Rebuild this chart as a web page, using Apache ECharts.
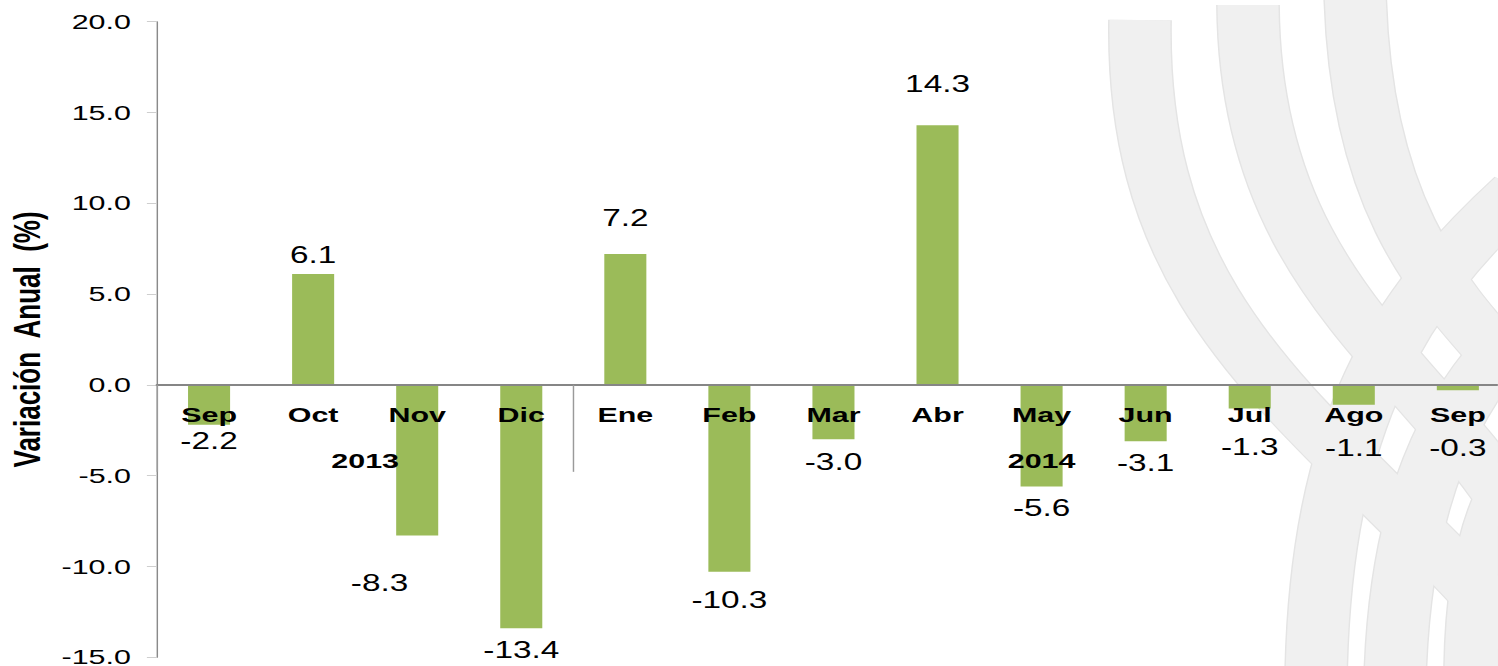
<!DOCTYPE html>
<html lang="es">
<head>
    <meta charset="utf-8">
    <title>Variación Anual</title>
    <script src="https://cdn.jsdelivr.net/npm/echarts@6/dist/echarts.min.js"></script>
    <style>
        body { margin: 0; overflow: hidden; background: #fff; }
        /* the source picture is stretched sideways, so the chart is drawn narrow and widened */
        #main { width: 1033px; height: 666px; transform: scaleX(1.45); transform-origin: 0 0; }
    </style>
</head>
<body>
    <div id="main"></div>
    <script type="text/javascript">
        var categories = ['Sep', 'Oct', 'Nov', 'Dic', 'Ene', 'Feb', 'Mar', 'Abr', 'May', 'Jun', 'Jul', 'Ago', 'Sep'];
        var values = [-2.2, 6.1, -8.3, -13.4, 7.2, -10.3, -3.0, 14.3, -5.6, -3.1, -1.3, -1.1, -0.3];
        var years = ['2013', '2014'];
        var yearFirst = [0, 4];
        var yearLast = [3, 12];
        var yMin = -15, yMax = 20, yStep = 5;

        // label placement as in the source (distance from bar end, sideways shift)
        var labelGap = [5, 8, 36, 10, 25, 17, 11, 30, 10, 10, 27, 32, 46];
        var labelShift = [0, 0, -26, 0, 0, 0, 0, 0, 0, 0, 0, 0, 0];

        var SX = 1.45;
        var gridTop = 21.7, gridH = 635.5;
        var font = 'Liberation Sans, Arial, Helvetica, sans-serif';
        var myChart = echarts.init(document.getElementById('main'), null, {renderer: 'svg'});

        // faint ribbon watermark on the right
        var ribbons = [
            [1140, 20, 1135, 330, 1330, 420, 1520, 640],
            [1248, 5, 1250, 280, 1420, 360, 1520, 520],
            [1355, -10, 1360, 220, 1450, 300, 1520, 380],
            [1316, 680, 1320, 420, 1400, 300, 1520, 190],
            [1395, 680, 1400, 500, 1450, 400, 1520, 330],
            [1475, 680, 1475, 560, 1500, 500, 1520, 470]
        ];
        var deco = [];
        ribbons.forEach(function (r) {
            var shape = {x1: r[0] / SX, y1: r[1], cpx1: r[2] / SX, cpy1: r[3],
                         cpx2: r[4] / SX, cpy2: r[5], x2: r[6] / SX, y2: r[7]};
            deco.push({type: 'bezierCurve', z: -20, silent: true, shape: shape,
                       style: {stroke: '#e4e4e4', lineWidth: 44, fill: null}});
            deco.push({type: 'bezierCurve', z: -19, silent: true, shape: shape,
                       style: {stroke: '#f0f0f0', lineWidth: 42, fill: null}});
        });

        var barData = values.map(function (v, i) {
            return {
                value: v,
                label: {
                    position: v < 0 ? 'bottom' : 'top',
                    distance: labelGap[i],
                    offset: [labelShift[i], 0]
                }
            };
        });

        // the category axis sits on the zero line
        var zeroOffset = -gridH * (0 - yMin) / (yMax - yMin);

        myChart.setOption({
            animation: false,
            grid: {left: 108.3, top: gridTop, width: 933, height: gridH, outerBoundsMode: 'none'},
            xAxis: {
                type: 'category',
                data: categories,
                position: 'bottom',
                offset: zeroOffset,
                z: 5,
                axisLine: {onZero: false, lineStyle: {color: '#868686', width: 2}},
                axisTick: {
                    show: true,
                    length: 87,
                    interval: function (index) { return index === 0 || index === 4; },
                    lineStyle: {color: '#9a9a9a', width: 1}
                },
                axisLabel: {
                    interval: 0, margin: 19,
                    color: '#000', fontSize: 21, fontWeight: 'bold', fontFamily: font
                },
                splitLine: {show: false}
            },
            yAxis: {
                type: 'value',
                min: yMin, max: yMax, interval: yStep,
                name: 'Variación  Anual  (%)',
                nameLocation: 'middle',
                nameGap: 76,
                nameTextStyle: {color: '#000', fontSize: 26, fontWeight: 'bold', fontFamily: font},
                axisLine: {show: true, lineStyle: {color: '#8a8a8a', width: 1}},
                axisTick: {show: true, length: 7, lineStyle: {color: '#cfcfcf'}},
                axisLabel: {
                    margin: 18, color: '#000', fontSize: 21, fontFamily: font,
                    formatter: function (v) { return v.toFixed(1); }
                },
                splitLine: {show: false}
            },
            series: [{
                type: 'bar',
                data: barData,
                barWidth: 29,
                itemStyle: {color: '#9bbb59'},
                label: {
                    show: true, color: '#000', fontSize: 23, fontFamily: font,
                    formatter: function (p) { return p.value.toFixed(1); }
                }
            }],
            graphic: deco
        });

        // year captions centred under their months
        var zeroY = myChart.convertToPixel({yAxisIndex: 0}, 0);
        var yearText = years.map(function (y, i) {
            var a = myChart.convertToPixel({xAxisIndex: 0}, yearFirst[i]);
            var b = myChart.convertToPixel({xAxisIndex: 0}, yearLast[i]);
            return {
                type: 'text', z: 10, silent: true,
                x: (a + b) / 2, y: zeroY + 76,
                style: {text: y, fill: '#000', font: 'bold 21px ' + font,
                        align: 'center', verticalAlign: 'middle'}
            };
        });
        myChart.setOption({graphic: deco.concat(yearText)});
    </script>
</body>
</html>
